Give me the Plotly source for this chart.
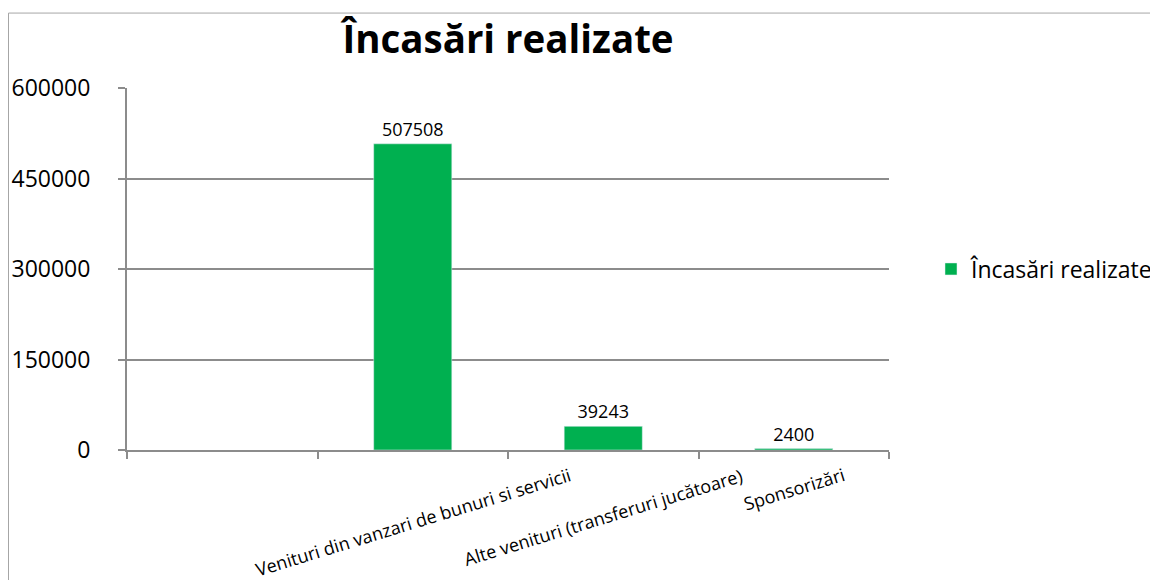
import plotly.graph_objects as go

# Date
categorii = [" ", "Venituri din vanzari de bunuri si servicii",
             "Alte venituri (transferuri jucătoare)", "Sponsorizări"]
valori = [None, 507508, 39243, 2400]
etichete_valori = ["", "507508", "39243", "2400"]
y_ticks = [0, 150000, 300000, 450000, 600000]
serie = "Încasări realizate"

VERDE = "#00B050"
GRI = "#8C8C8C"
FONT = "Open Sans"
OFS = 8  # marginea implicita a paginii (body) in browser

fig = go.Figure(go.Bar(
    x=categorii,
    y=valori,
    name=serie,
    marker_color=VERDE,
    text=etichete_valori,
    textposition="outside",
    textfont=dict(size=18, color="#000000", family=FONT),
    cliponaxis=False,
    showlegend=True,
))

# etichete categorii rotite, centrate pe categorie
for cat in categorii[1:]:
    fig.add_annotation(
        x=cat, xref="x",
        y=-0.028, yref="paper",
        text=cat, showarrow=False,
        textangle=-17,
        xanchor="center", yanchor="top",
        font=dict(size=18, color="#000000", family=FONT),
    )

# chenarul graficului
fig.add_shape(
    type="rect", xref="paper", yref="paper",
    x0=-0.1555, x1=1.37, y0=-0.40, y1=1.207,
    line=dict(color="#A6A6A6", width=1),
    fillcolor="rgba(0,0,0,0)", layer="below",
)

fig.update_layout(
    width=1158,
    height=580,
    margin=dict(l=127 - OFS, r=1158 - 889 + OFS, t=88 - OFS, b=580 - 450 + OFS),
    paper_bgcolor="white",
    plot_bgcolor="white",
    title=dict(
        text=f"<b>{serie}</b>",
        xref="paper", x=0.5, xanchor="center",
        y=1 - (40 - OFS) / 580, yanchor="middle",
        font=dict(size=38.5, color="#000000", family=FONT),
    ),
    bargap=0.59,
    legend=dict(
        xref="container", x=923 / 1158, xanchor="left",
        yref="container", y=1 - (269 - OFS) / 580, yanchor="middle",
        font=dict(size=23, color="#000000", family=FONT),
        bgcolor="rgba(0,0,0,0)",
    ),
    showlegend=True,
)

fig.update_xaxes(
    type="category",
    categoryorder="array",
    categoryarray=categorii,
    showticklabels=False,
    tickson="boundaries",
    ticks="outside",
    ticklen=7,
    tickwidth=2,
    tickcolor=GRI,
    showline=True,
    linecolor=GRI,
    linewidth=2,
    showgrid=False,
    automargin=False,
)

fig.update_yaxes(
    range=[0, 600000],
    tickvals=y_ticks,
    ticktext=[str(v) for v in y_ticks],
    tickfont=dict(size=23, color="#000000", family=FONT),
    ticks="outside",
    ticklen=7,
    tickwidth=2,
    tickcolor=GRI,
    ticklabelstandoff=23,
    showline=True,
    linecolor=GRI,
    linewidth=2,
    showgrid=True,
    gridcolor=GRI,
    gridwidth=2,
    zeroline=False,
    automargin=False,
)

fig.write_html("out.html")
